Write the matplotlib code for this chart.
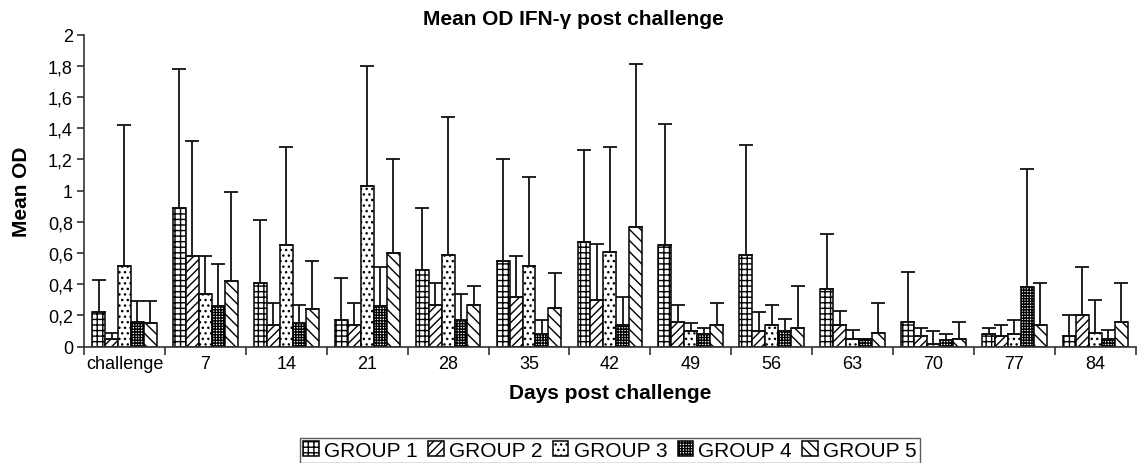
import numpy as np
import matplotlib
matplotlib.use('Agg')
import matplotlib.pyplot as plt

plt.rcParams['font.family'] = ['Liberation Sans', 'DejaVu Sans']
plt.rcParams['hatch.linewidth'] = 1.0

days = ['challenge', '7', '14', '21', '28', '35', '42', '49', '56', '63', '70', '77', '84']
group_names = ['GROUP 1', 'GROUP 2', 'GROUP 3', 'GROUP 4', 'GROUP 5']

# mean OD per day
g1_mean = [0.22, 0.89, 0.41, 0.17, 0.49, 0.55, 0.67, 0.65, 0.59, 0.37, 0.16, 0.08, 0.07]
g2_mean = [0.05, 0.58, 0.14, 0.14, 0.27, 0.32, 0.30, 0.16, 0.10, 0.14, 0.07, 0.07, 0.20]
g3_mean = [0.52, 0.34, 0.65, 1.03, 0.59, 0.52, 0.61, 0.10, 0.14, 0.05, 0.02, 0.08, 0.09]
g4_mean = [0.16, 0.26, 0.15, 0.26, 0.17, 0.08, 0.14, 0.08, 0.10, 0.05, 0.04, 0.38, 0.05]
g5_mean = [0.15, 0.42, 0.24, 0.60, 0.27, 0.25, 0.77, 0.14, 0.12, 0.09, 0.05, 0.14, 0.16]

# top of the error bar (mean + SD)
g1_upper = [0.43, 1.78, 0.81, 0.44, 0.89, 1.20, 1.26, 1.43, 1.29, 0.72, 0.48, 0.12, 0.20]
g2_upper = [0.09, 1.32, 0.28, 0.28, 0.41, 0.58, 0.66, 0.27, 0.22, 0.23, 0.12, 0.14, 0.51]
g3_upper = [1.42, 0.58, 1.28, 1.80, 1.47, 1.09, 1.28, 0.15, 0.27, 0.11, 0.10, 0.17, 0.30]
g4_upper = [0.29, 0.53, 0.27, 0.51, 0.34, 0.17, 0.32, 0.12, 0.18, 0.05, 0.08, 1.14, 0.11]
g5_upper = [0.29, 0.99, 0.55, 1.20, 0.39, 0.47, 1.81, 0.28, 0.39, 0.28, 0.16, 0.41, 0.41]

means = [g1_mean, g2_mean, g3_mean, g4_mean, g5_mean]
uppers = [g1_upper, g2_upper, g3_upper, g4_upper, g5_upper]
hatches = ['+++', '////', '...', '++++++', '\\\\\\']

fig = plt.figure(figsize=(11.37, 4.64), dpi=100)
ax = fig.add_axes([0.0739, 0.2507, 0.925, 0.6724])

x = np.arange(len(days))
width = 0.16
for i in range(5):
    pos = x + (i - 2) * width
    m = np.array(means[i])
    up = np.array(uppers[i])
    ax.bar(pos, m, width, color='white', edgecolor='black', linewidth=1.1,
           hatch=hatches[i], label=group_names[i], zorder=2)
    ax.errorbar(pos, m, yerr=[np.zeros_like(m), up - m], fmt='none',
                ecolor='#111111', elinewidth=1.3, capsize=4.7, capthick=1.3,
                zorder=3)

ax.set_xlim(-0.5, len(days) - 0.5)
ax.set_ylim(0, 2)
yt = np.arange(0, 2.01, 0.2)
ax.set_yticks(yt)
ax.set_yticklabels([f'{v:g}'.replace('.', ',') for v in np.round(yt, 1)], fontsize=13)
ax.set_xticks(x)
ax.set_xticklabels(days, fontsize=13)
ax.set_xticks(np.arange(-0.5, len(days), 1), minor=True)
ax.tick_params(axis='x', which='major', length=0, pad=6)
ax.tick_params(axis='x', which='minor', length=6, width=1.2, color='#333333')
ax.tick_params(axis='y', length=5, width=1.2, color='#333333', pad=3)
for s in ['top', 'right']:
    ax.spines[s].set_visible(False)
for s in ['left', 'bottom']:
    ax.spines[s].set_linewidth(1.2)
    ax.spines[s].set_color('#333333')

ax.set_ylabel('Mean OD', fontsize=15, fontweight='bold', labelpad=12)
ax.set_xlabel('Days post challenge', fontsize=15, fontweight='bold', labelpad=8)
fig.text(0.504, 0.957, 'Mean OD IFN-γ post challenge', fontsize=15,
         fontweight='bold', ha='center', va='center')

fig.legend(loc='lower center', bbox_to_anchor=(0.5365, 0.0), ncol=5,
           fontsize=15, frameon=True, fancybox=False, edgecolor='#333333',
           handlelength=0.75, handleheight=0.75, handletextpad=0.25,
           columnspacing=0.5, borderpad=0.15, borderaxespad=0)

fig.savefig('out.png', dpi=100)
